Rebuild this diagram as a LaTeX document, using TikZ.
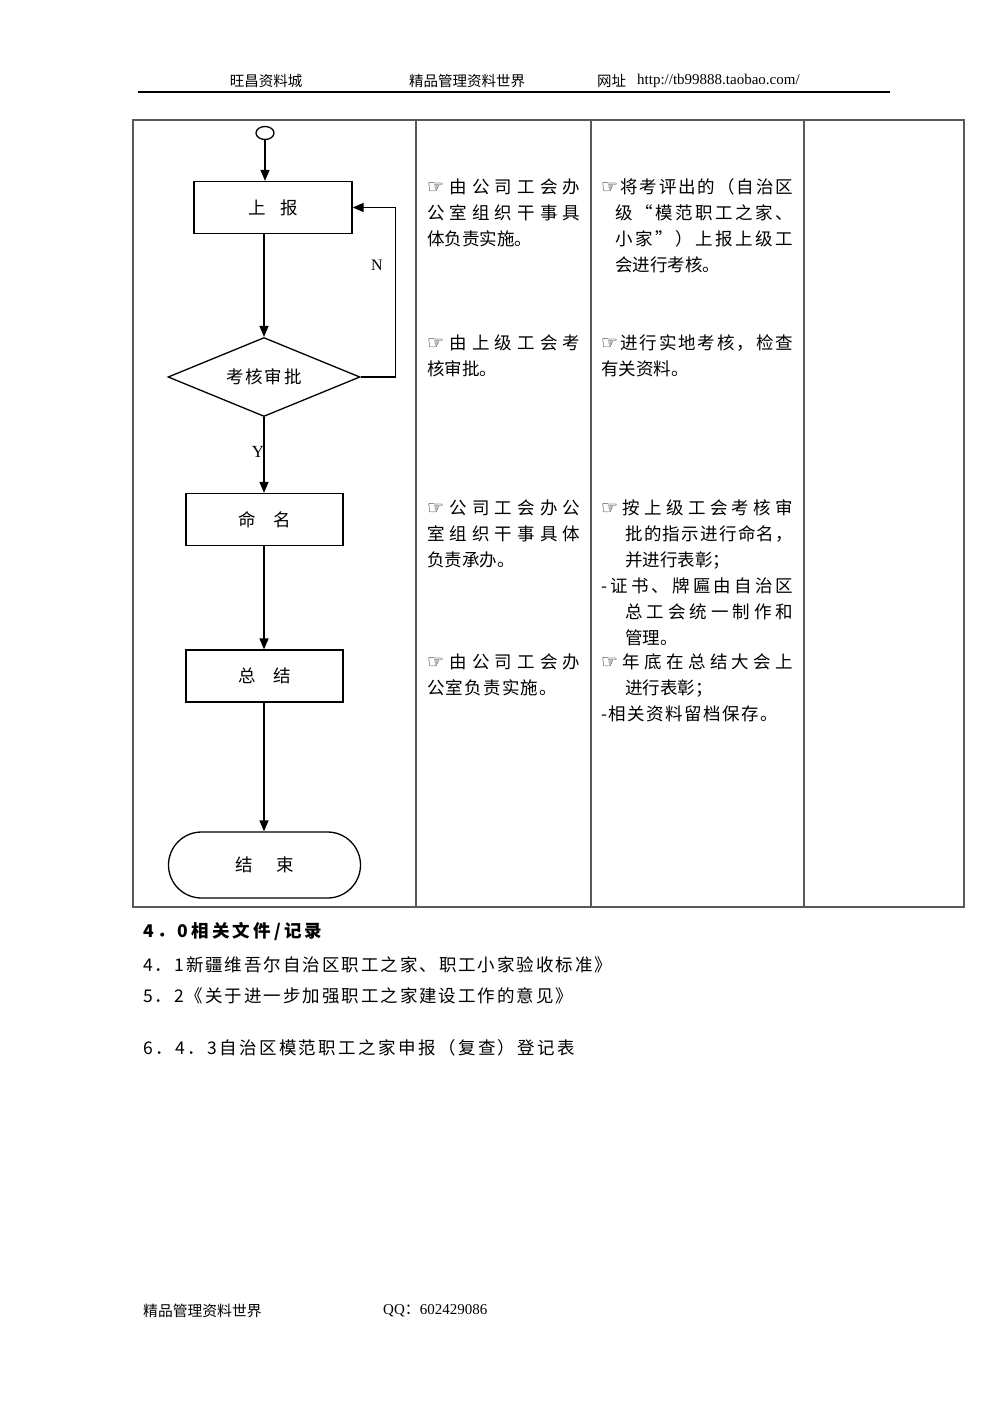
\documentclass[tikz,border=0pt]{standalone}
\usepackage{fontspec}
\setmainfont{Liberation Serif}
\newfontfamily\cjk{Noto Sans CJK SC}
\newfontfamily\symfont{DejaVu Sans}
\usetikzlibrary{arrows.meta,shapes.geometric,positioning}

\makeatletter
% spread the characters of one line over a given width
\newcommand\spreadline[2]{\makebox[#1][s]{\@tfor\ch:=#2\do{\ch\hfill}\unskip}}
\makeatother
\newcommand\hand{{\symfont\fontsize{19}{19}\selectfont\char"261E}}

\tikzset{
  flowline/.style={line width=1.5pt,-{Triangle[length=11pt,width=9pt]}},
  flowbox/.style={draw,line width=1.3pt,minimum height=52pt,inner sep=0pt,font=\cjk\fontsize{17.5}{20}\selectfont},
  tableline/.style={draw=black!65,line width=1.4pt},
  celltext/.style={anchor=north west,inner sep=0pt,align=left,font=\cjk\fontsize{17.5}{26}\selectfont},
  pagetext/.style={anchor=west,inner sep=0pt,font=\cjk\fontsize{17.5}{20}\selectfont},
  smalltext/.style={anchor=west,inner sep=0pt,font=\fontsize{15}{16}\selectfont}
}

\begin{document}
\begin{tikzpicture}[x=1pt,y=-1pt]
\useasboundingbox (0,0) rectangle (992,1403);
\fill[white] (0,0) rectangle (992,1403);

% header
\node[smalltext,anchor=center,font=\cjk\fontsize{14.5}{16}\selectfont] (hshop) at (266,81) {旺昌资料城};
\node[smalltext,anchor=center,font=\cjk\fontsize{14.5}{16}\selectfont] (hworld) at (467,81) {精品管理资料世界};
\node[smalltext,font=\cjk\fontsize{14.5}{16}\selectfont] (hsite) at (597,81) {网址};
\node[smalltext] (hurl) at (637,81) {http://tb99888.taobao.com/};
\draw[line width=2pt] (138,92) -- (890,92);

% table
\draw[tableline] (133,120) rectangle (964,907);
\foreach \x in {416,591,804} \draw[tableline] (\x,120) -- (\x,907);

% flow chart
\node[ellipse,draw,line width=1.3pt,minimum width=18pt,minimum height=13pt,inner sep=0pt] (start) at (265,133) {};
\node[flowbox,minimum width=158pt] (report) at (273,207.5) {上\hspace{15pt}报};
\node[diamond,draw,line width=1.3pt,shape aspect=2.4,minimum width=192pt,minimum height=79pt,inner sep=0pt,font=\cjk\fontsize{17.5}{20}\selectfont] (review) at (264,377) {\spreadline{76pt}{考核审批}};
\node[flowbox,minimum width=157pt] (naming) at (264.5,519.5) {命\hspace{18pt}名};
\node[flowbox,minimum width=157pt] (summary) at (264.5,676) {总\hspace{18pt}结};
\node[flowbox,minimum width=192pt,minimum height=66pt,rounded corners=33pt] (finish) at (264.5,865) {结\hspace{24pt}束};

\draw[flowline] (start) -- (start |- report.north);
\draw[flowline] (report.south -| review) -- (review.north);
\draw[flowline] (review.east) -- ++(35,0) |- (report.east);
\draw[flowline] (review.south) -- (naming.north -| review);
\draw[flowline] (naming.south -| review) -- (summary.north -| review);
\draw[flowline] (summary.south -| review) -- (finish.north -| review);
\node[font=\fontsize{16}{16}\selectfont] (nolabel) at (377,265) {N};
\node[font=\fontsize{17}{17}\selectfont] (yeslabel) at (258,452) {Y};

% who does it
\node[celltext] (duty1) at (427,178.5) {\spreadline{153pt}{\hand 由公司工会办}\\\spreadline{153pt}{公室组织干事具}\\体负责实施。};
\node[celltext] (duty2) at (427,334.5) {\spreadline{153pt}{\hand 由上级工会考}\\核审批。};
\node[celltext] (duty3) at (427,499.5) {\spreadline{153pt}{\hand 公司工会办公}\\\spreadline{153pt}{室组织干事具体}\\负责承办。};
\node[celltext] (duty4) at (427,653.5) {\spreadline{153pt}{\hand 由公司工会办}\\\spreadline{130pt}{公室负责实施。}};

% what is done
\node[celltext] (act1) at (601,178.5) {\spreadline{192pt}{\hand 将考评出的（自治区}\\\hspace*{14pt}\spreadline{178pt}{级“模范职工之家、}\\\hspace*{14pt}\spreadline{178pt}{小家”）上报上级工}\\\hspace*{14pt}会进行考核。};
\node[celltext] (act2) at (601,334.5) {\spreadline{192pt}{\hand 进行实地考核，检查}\\有关资料。};
\node[celltext] (act3) at (601,499.5) {\spreadline{192pt}{\hand 按上级工会考核审}\\\hspace*{24pt}\spreadline{168pt}{批的指示进行命名，}\\\hspace*{24pt}并进行表彰；\\\spreadline{192pt}{-证书、牌匾由自治区}\\\hspace*{24pt}\spreadline{168pt}{总工会统一制作和}\\\hspace*{24pt}管理。};
\node[celltext] (act4) at (601,653.5) {\spreadline{192pt}{\hand 年底在总结大会上}\\\hspace*{24pt}进行表彰；\\\spreadline{177pt}{-相关资料留档保存。}};

% related files
\node[pagetext,font=\cjk\bfseries\fontsize{17.5}{20}\selectfont] (files) at (143,931) {\spreadline{179pt}{4．0相关文件/记录}};
\node[pagetext] (file1) at (143,965) {\spreadline{469pt}{4．1新疆维吾尔自治区职工之家、职工小家验收标准》}};
\node[pagetext] (file2) at (143,996) {\spreadline{430pt}{5．2《关于进一步加强职工之家建设工作的意见》}};
\node[pagetext] (file3) at (143,1048) {\spreadline{432pt}{6．4．3自治区模范职工之家申报（复查）登记表}};

% footer
\node[smalltext,font=\cjk\fontsize{14.8}{16}\selectfont] (fworld) at (143,1311) {精品管理资料世界};
\node[smalltext] (fqq) at (383,1311) {QQ{\cjk ：}602429086};
\end{tikzpicture}
\end{document}
